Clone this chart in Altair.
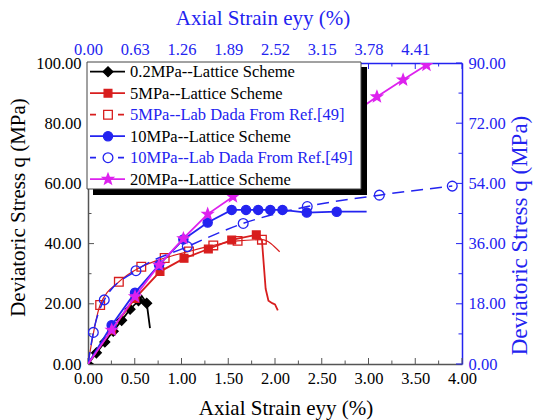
import math
import altair as alt
import pandas as pd

# ---- axial strain (%) vs deviatoric stress q (MPa) ----
strain_02 = [0, 0.09, 0.18, 0.27, 0.36, 0.45, 0.54, 0.575, 0.628, 0.663]
q_02 = [0, 3.7, 7.3, 10.9, 14.5, 18.2, 21.0, 22.6, 20.2, 11.9]
mark_02 = [1, 1, 1, 1, 1, 1, 1, 0, 1, 0]

strain_5 = [0, 0.253, 0.503, 0.77, 1.027, 1.287, 1.537, 1.80, 1.86, 1.88, 1.90, 1.93, 1.97, 2.00, 2.03]
q_5 = [0, 11.3, 21.8, 30.7, 35.1, 38.2, 41.2, 42.9, 41.2, 33.0, 25.0, 21.0, 20.2, 19.8, 17.8]
mark_5 = [0, 1, 1, 1, 1, 1, 1, 1, 0, 0, 0, 0, 0, 0, 0]

strain_5_lab = [0, 0.13, 0.33, 0.57, 0.82, 1.08, 1.34, 1.60, 1.86, 2.05]
q_5_lab = [0, 19.6, 27.3, 32.3, 35.2, 37.4, 39.4, 40.9, 41.3, 37.3]
mark_5_lab = [0, 1, 1, 1, 1, 1, 1, 1, 1, 0]

strain_10 = [0, 0.253, 0.503, 0.76, 1.02, 1.28, 1.537, 1.69, 1.82, 1.95, 2.08, 2.34, 2.66, 2.98]
q_10 = [0, 12.9, 23.7, 32.9, 41.4, 47.0, 51.2, 51.2, 51.2, 51.2, 51.2, 50.3, 50.6, 50.6]
mark_10 = [0, 1, 1, 1, 1, 1, 1, 1, 1, 1, 1, 1, 1, 0]

strain_10_lab = [0, 0.057, 0.174, 0.513, 1.062, 1.66, 2.345, 3.116, 3.896]
q_10_lab = [0, 10.5, 21.3, 31.0, 39.0, 46.7, 52.3, 56.1, 59.1]
mark_10_lab = [0, 1, 1, 1, 1, 1, 1, 1, 1]

strain_20 = [0, 0.253, 0.503, 0.76, 1.02, 1.28, 1.55, 1.81, 2.06, 2.32, 2.58, 2.84, 3.09, 3.37, 3.62]
q_20 = [0, 11.3, 22.4, 32.9, 41.7, 49.8, 55.6, 61.2, 66.6, 72.2, 77.8, 83.4, 88.8, 94.4, 99.3]
mark_20 = [0, 1, 1, 1, 1, 1, 1, 1, 1, 1, 1, 1, 1, 1, 1]

# ---- axis ticks ----
x_major = [0.0, 0.5, 1.0, 1.5, 2.0, 2.5, 3.0, 3.5, 4.0]
x_minor = [0.25, 0.75, 1.25, 1.75, 2.25, 2.75, 3.25, 3.75]
y_major = [0, 20, 40, 60, 80, 100]
y_minor = [10, 30, 50, 70, 90]
top_major = [0.00, 0.63, 1.26, 1.89, 2.52, 3.15, 3.78, 4.41]
top_minor = [0.315, 0.945, 1.575, 2.205, 2.835, 3.465, 4.095, 4.725]
right_major = [0, 18, 36, 54, 72, 90]
right_minor = [9, 27, 45, 63, 81]

legend_labels = [
    "0.2MPa--Lattice Scheme",
    "5MPa--Lattice Scheme",
    "5MPa--Lab Dada From Ref.[49]",
    "10MPa--Lattice Scheme",
    "10MPa--Lab Dada From Ref.[49]",
    "20MPa--Lattice Scheme",
]

W, H = 374, 301
FONT = "Liberation Serif"
BLACK = "#000000"
RED = "#d81e1e"
BLUE = "#2323f0"
MAGENTA = "#dd22ee"
GRAY = "#555555"


def star_path(inner=0.42):
    pts = []
    for k in range(10):
        r = 1.0 if k % 2 == 0 else inner
        a = math.radians(-90 + 36 * k)
        pts.append(f"{r * math.cos(a):.3f},{r * math.sin(a):.3f}")
    return "M" + "L".join(pts) + "Z"


STAR = star_path()

axis_common = dict(
    grid=False, ticks=False, tickSize=0, format=".2f",
    labelFont=FONT, labelFontSize=16.5, labelFlush=False, labelOverlap=False,
    titleFont=FONT, titleFontWeight="normal",
    titleAlign="center", titleBaseline="middle", domainWidth=1.5,
)

bottom_axis = alt.Axis(orient="bottom", values=x_major, labelColor=BLACK, domainColor=GRAY,
                       labelPadding=6, title="Axial Strain eyy (%)", titleColor=BLACK,
                       titleFontSize=21, titleX=197.5, titleY=44, titleAngle=0, **axis_common)
left_axis = alt.Axis(orient="left", values=y_major, labelColor=BLACK, domainColor=GRAY,
                     labelPadding=7, title="Deviatoric Stress q (MPa)", titleColor=BLACK,
                     titleFontSize=21, titleX=-70, titleY=144, titleAngle=270, **axis_common)
top_axis = alt.Axis(orient="top", values=top_major, labelColor=BLUE, domainColor=BLUE,
                    labelPadding=6, title="Axial Strain eyy (%)", titleColor=BLUE,
                    titleFontSize=21, titleX=174.5, titleY=-45, titleAngle=0, **axis_common)
right_axis = alt.Axis(orient="right", values=right_major, labelColor=BLUE, domainColor=BLUE,
                      labelPadding=6, title="Deviatoric Stress q (MPa)", titleColor=BLUE,
                      titleFontSize=23, titleX=57, titleY=172, titleAngle=270, **axis_common)

X = alt.X("x:Q", scale=alt.Scale(domain=[0, 4], nice=False, zero=False), axis=bottom_axis)
Y = alt.Y("y:Q", scale=alt.Scale(domain=[0, 100], nice=False, zero=False), axis=left_axis)
XT = alt.X("tx:Q", scale=alt.Scale(domain=[0, 5.04], nice=False, zero=False), axis=top_axis)
YR = alt.Y("ry:Q", scale=alt.Scale(domain=[0, 90], nice=False, zero=False), axis=right_axis)


def series(xs, ys, marks, color, shape, filled, size, width, dash=None, interp="linear"):
    df = pd.DataFrame({"x": xs, "y": ys, "m": marks, "i": range(len(xs))})
    base = alt.Chart(df)
    line_kw = dict(color=color, strokeWidth=width, interpolate=interp, clip=True)
    if dash:
        line_kw["strokeDash"] = dash
    line = base.mark_line(**line_kw).encode(x=X, y=Y, order="i:Q")
    pt_kw = dict(shape=shape, size=size, opacity=1, clip=True, strokeWidth=1.3)
    if filled:
        pt_kw.update(filled=True, fill=color, stroke=color)
    else:
        pt_kw.update(filled=False, color=color)
    pts = base.transform_filter("datum.m == 1").mark_point(**pt_kw).encode(x=X, y=Y)
    return [line, pts]


# inward ticks on the bottom / left axes
def vticks(vals, length, color):
    df = pd.DataFrame({"x": vals})
    return alt.Chart(df).mark_rule(color=color, strokeWidth=1).encode(
        x=X, y=alt.value(H), y2=alt.value(H - length))


def hticks(vals, length, color):
    df = pd.DataFrame({"y": vals})
    return alt.Chart(df).mark_rule(color=color, strokeWidth=1).encode(
        y=Y, x=alt.value(0), x2=alt.value(length))


main = alt.layer(
    vticks(x_major, 6, GRAY), vticks(x_minor, 3.5, GRAY),
    hticks(y_major, 6, GRAY), hticks(y_minor, 3.5, GRAY),
    *series(strain_02, q_02, mark_02, BLACK, "diamond", True, 95, 1.8),
    *series(strain_5, q_5, mark_5, RED, "square", True, 60, 1.8),
    *series(strain_5_lab, q_5_lab, mark_5_lab, RED, "square", False, 75, 1.2, interp="monotone"),
    *series(strain_10, q_10, mark_10, BLUE, "circle", True, 85, 1.8),
    *series(strain_10_lab, q_10_lab, mark_10_lab, BLUE, "circle", False, 95, 1.5,
            dash=[12, 7], interp="monotone"),
    *series(strain_20, q_20, mark_20, MAGENTA, STAR, True, 130, 1.8),
)

# top / right axes in their own units, with inward ticks
top_major_df = pd.DataFrame({"tx": top_major + [5.04]})
top_minor_df = pd.DataFrame({"tx": top_minor})
right_major_df = pd.DataFrame({"ry": right_major})
right_minor_df = pd.DataFrame({"ry": right_minor})

aux = alt.layer(
    alt.Chart(top_major_df).mark_rule(color=BLUE, strokeWidth=1).encode(
        x=XT, y=alt.value(0), y2=alt.value(6)),
    alt.Chart(top_minor_df).mark_rule(color=BLUE, strokeWidth=1).encode(
        x=XT, y=alt.value(0), y2=alt.value(3.5)),
    alt.Chart(right_major_df).mark_rule(color=BLUE, strokeWidth=1).encode(
        y=YR, x=alt.value(W), x2=alt.value(W - 6)),
    alt.Chart(right_minor_df).mark_rule(color=BLUE, strokeWidth=1).encode(
        y=YR, x=alt.value(W), x2=alt.value(W - 3.5)),
)

# legend box with drop shadow
one = pd.DataFrame({"k": [0]})
legend_layers = [
    alt.Chart(one).mark_rect(fill=BLACK).encode(
        x=alt.value(5), x2=alt.value(279), y=alt.value(4), y2=alt.value(132)),
    alt.Chart(one).mark_rect(fill="white", stroke="#444444", strokeWidth=1).encode(
        x=alt.value(-1), x2=alt.value(273), y=alt.value(-1), y2=alt.value(126)),
]

legend_styles = [
    (BLACK, "diamond", True, 95, None, BLACK),
    (RED, "square", True, 60, None, BLACK),
    (RED, "square", False, 75, [6, 8], BLUE),
    (BLUE, "circle", True, 85, None, BLACK),
    (BLUE, "circle", False, 95, [6, 8], BLUE),
    (MAGENTA, STAR, True, 130, None, BLACK),
]

for i, (label, (col, shp, filled, size, dash, tcol)) in enumerate(zip(legend_labels, legend_styles)):
    yi = 8.7 + 21.5 * i
    rule_kw = dict(color=col, strokeWidth=1.8)
    if dash:
        rule_kw["strokeDash"] = dash
    legend_layers.append(alt.Chart(one).mark_rule(**rule_kw).encode(
        x=alt.value(2), x2=alt.value(37), y=alt.value(yi)))
    mk = alt.Chart(one).mark_point(shape=shp, size=size, filled=True,
                                   fill=col if filled else "white",
                                   stroke=col, opacity=1, strokeWidth=1.3)
    legend_layers.append(mk.encode(x=alt.value(20), y=alt.value(yi)))
    legend_layers.append(
        alt.Chart(pd.DataFrame({"label": [label]})).mark_text(
            align="left", baseline="middle", font=FONT, fontSize=16.5, color=tcol
        ).encode(x=alt.value(42), y=alt.value(yi + 0.5), text="label:N"))

legend = alt.layer(*legend_layers)

chart = (
    alt.layer(main, aux, legend)
    .resolve_scale(x="independent", y="independent")
    .properties(
        width=W, height=H,
        autosize=alt.AutoSizeParams(type="none"),
        padding={"left": 88, "top": 63, "right": 71, "bottom": 56},
        background="white",
    )
    .configure_view(stroke=None)
)

chart.save("out.html", embed_options={"renderer": "svg", "actions": False})
